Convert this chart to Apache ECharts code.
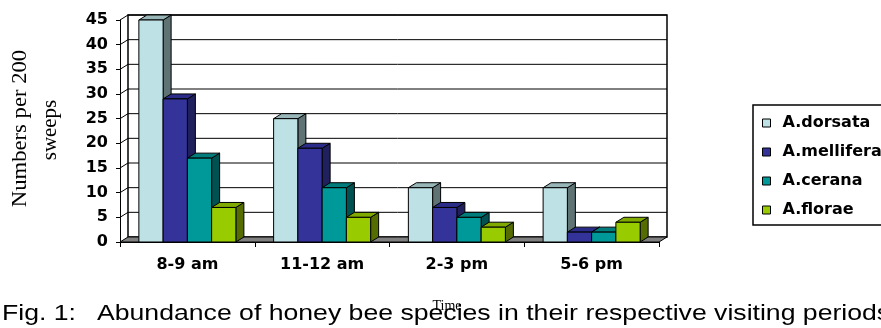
<!DOCTYPE html>
<html>
<head>
<meta charset="utf-8">
<script src="https://cdn.jsdelivr.net/npm/echarts@6/dist/echarts.min.js"></script>
<style>
  html, body { margin: 0; padding: 0; background: #fff; }
  #chart { width: 881px; height: 328px; }
</style>
</head>
<body>
<div id="chart"></div>
<script>
// Visiting periods and honey bee counts per 200 sweeps
const periods = ['8-9 am', '11-12 am', '2-3 pm', '5-6 pm'];
const species = ['A.dorsata', 'A.mellifera', 'A.cerana', 'A.florae'];
const dorsata = [45, 25, 11, 11];
const mellifera = [29, 19, 7, 2];
const cerana = [17, 11, 5, 2];
const florae = [7, 5, 3, 4];
const yTicks = [0, 5, 10, 15, 20, 25, 30, 35, 40, 45];

const seriesValues = [dorsata, mellifera, cerana, florae];

// Face colours for the pseudo-3D boxes: front, top, side
const faceColors = ['#BDE1E4', '#333399', '#009999', '#99CC00'];
const topColors = ['#98B6B8', '#2B2B88', '#007C7C', '#80AA00'];
const sideColors = ['#5F7375', '#20205E', '#005252', '#556D00'];

const DX = 8;      // depth offset to the right
const DY = 5;      // depth offset upwards
const BAR_FRAC = 0.18;
const LABEL_FONT = 'DejaVu Sans';

const chart = echarts.init(document.getElementById('chart'));

// Back wall, side gridlines and grey floor
function renderFrame(params, api) {
  const cs = params.coordSys;
  const L = cs.x, R = cs.x + cs.width, T = cs.y, B = cs.y + cs.height;
  const children = [{
    type: 'rect',
    shape: { x: L + DX, y: T - DY, width: cs.width, height: cs.height },
    style: { fill: '#fff', stroke: '#000', lineWidth: 1.5 }
  }];
  yTicks.forEach(function (v) {
    if (v === 0) return;
    const y = api.coord([0, v])[1];
    children.push({
      type: 'polyline',
      shape: { points: [[L, y], [L + DX, y - DY], [R + DX, y - DY]] },
      style: { stroke: '#000', lineWidth: 1, fill: null }
    });
  });
  children.push({
    type: 'polygon',
    shape: { points: [[L, B], [L + DX, B - DY], [R + DX, B - DY], [R, B]] },
    style: { fill: '#808080', stroke: '#000', lineWidth: 1 }
  });
  return { type: 'group', children: children };
}

// One box per data item, dodged within its period
function boxRenderer(k) {
  return function (params, api) {
    const cat = api.value(0);
    const val = api.value(1);
    const band = api.size([1, 0])[0];
    const w = band * BAR_FRAC;
    const base = api.coord([cat, 0]);
    const top = api.coord([cat, val]);
    const x0 = base[0] + (k - 2) * w;
    const x1 = x0 + w;
    const yb = base[1], yt = top[1];
    const edge = { stroke: '#000', lineWidth: 1 };
    return {
      type: 'group',
      children: [
        { type: 'polygon',
          shape: { points: [[x1, yt], [x1 + DX, yt - DY], [x1 + DX, yb - DY], [x1, yb]] },
          style: Object.assign({ fill: sideColors[k] }, edge) },
        { type: 'polygon',
          shape: { points: [[x0, yt], [x0 + DX, yt - DY], [x1 + DX, yt - DY], [x1, yt]] },
          style: Object.assign({ fill: topColors[k] }, edge) },
        { type: 'rect',
          shape: { x: x0, y: yt, width: w, height: yb - yt },
          style: Object.assign({ fill: faceColors[k] }, edge) }
      ]
    };
  };
}

const series = [{
  type: 'custom',
  name: 'frame',
  renderItem: renderFrame,
  data: [[0, 0]],
  encode: { x: 0, y: 1 },
  silent: true,
  legendHoverLink: false
}];

species.forEach(function (name, k) {
  series.push({
    type: 'custom',
    name: name,
    renderItem: boxRenderer(k),
    data: seriesValues[k].map(function (v, i) { return [i, v]; }),
    encode: { x: 0, y: 1 },
    itemStyle: { color: faceColors[k], borderColor: '#000', borderWidth: 1 }
  });
});

chart.setOption({
  animation: false,
  backgroundColor: '#fff',
  grid: { left: 120, right: 222, top: 20, bottom: 86 },
  xAxis: {
    type: 'category',
    data: periods,
    axisLine: { show: true, lineStyle: { color: '#000', width: 1 } },
    axisTick: { show: true, length: 5, lineStyle: { color: '#000' } },
    axisLabel: { color: '#000', fontFamily: LABEL_FONT, fontWeight: 'bold', fontSize: 16, margin: 15 },
    splitLine: { show: false }
  },
  yAxis: {
    type: 'value',
    min: 0,
    max: 45,
    interval: 5,
    axisLine: { show: true, lineStyle: { color: '#000', width: 1 } },
    axisTick: { show: true, length: 4, lineStyle: { color: '#000' } },
    axisLabel: { color: '#000', fontFamily: LABEL_FONT, fontWeight: 'bold', fontSize: 16, margin: 12 },
    splitLine: { show: false }
  },
  legend: {
    orient: 'vertical',
    left: 753,
    top: 105,
    data: species,
    icon: 'rect',
    itemWidth: 8,
    itemHeight: 8,
    itemGap: 13,
    padding: [10, 10, 7, 9],
    borderColor: '#000',
    borderWidth: 1.5,
    itemStyle: { borderColor: '#000', borderWidth: 1 },
    textStyle: { color: '#000', fontFamily: LABEL_FONT, fontWeight: 'bold', fontSize: 16, lineHeight: 16, padding: [0, 0, 0, 7] }
  },
  graphic: [
    { type: 'text', x: 20, y: 128.5, rotation: Math.PI / 2, scaleX: 1.03,
      style: { text: 'Numbers per 200', fill: '#000', font: '22px "Liberation Serif"', align: 'center', verticalAlign: 'middle', textAlign: 'center', textVerticalAlign: 'middle' } },
    { type: 'text', x: 50, y: 130, rotation: Math.PI / 2, scaleX: 0.95,
      style: { text: 'sweeps', fill: '#000', font: '22px "Liberation Serif"', align: 'center', verticalAlign: 'middle', textAlign: 'center', textVerticalAlign: 'middle' } },
    { type: 'text', x: 447, y: 306,
      style: { text: 'Time', fill: '#000', font: '14px "Liberation Serif"', align: 'center', verticalAlign: 'middle', textAlign: 'center', textVerticalAlign: 'middle' } },
    { type: 'text', x: 2, y: 314, scaleX: 1.21,
      style: { text: 'Fig. 1:', fill: '#000', font: '22px "Liberation Sans"', align: 'left', verticalAlign: 'middle', textAlign: 'left', textVerticalAlign: 'middle' } },
    { type: 'text', x: 97, y: 314, scaleX: 1.21,
      style: { text: 'Abundance of honey bee species in their respective visiting periods', fill: '#000', font: '22px "Liberation Sans"', align: 'left', verticalAlign: 'middle', textAlign: 'left', textVerticalAlign: 'middle' } }
  ],
  series: series
});
</script>
</body>
</html>
